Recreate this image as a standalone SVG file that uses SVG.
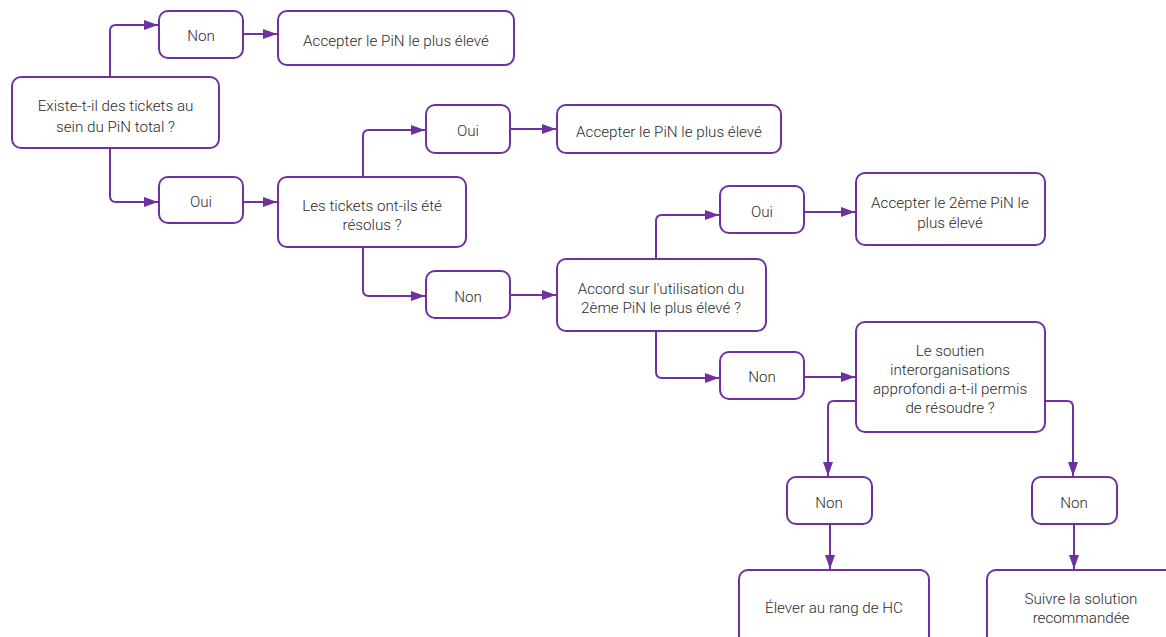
<svg xmlns="http://www.w3.org/2000/svg" width="1166" height="637" viewBox="0 0 1166 637">
<defs>
<marker id="ah" markerUnits="userSpaceOnUse" markerWidth="16" markerHeight="12" refX="14" refY="5" orient="auto">
<path d="M0 0 L14 5 L0 10 Z" fill="#7030a0"/>
</marker>
<style>
.n rect{fill:#fff;stroke:#7030a0;stroke-width:2;}
.n text{font-family:Roboto,"Liberation Sans",sans-serif;font-weight:300;font-size:15.2px;fill:#2b2b2b;text-anchor:middle;dominant-baseline:central;}
#edges path{fill:none;stroke:#7030a0;stroke-width:2;marker-end:url(#ah);}
</style>
</defs>
<rect width="1166" height="637" fill="#fff"/>
<g id="edges">
<path d="M110 77 V31 Q110 25 116 25 H158"/>
<path d="M110 148 V196 Q110 202 116 202 H158"/>
<path d="M243 34 H277"/>
<path d="M243 202 H277"/>
<path d="M363 177 V136 Q363 130 369 130 H425"/>
<path d="M363 247 V290 Q363 296 369 296 H425"/>
<path d="M510 129 H556"/>
<path d="M510 295 H556"/>
<path d="M656 259 V221 Q656 215 662 215 H719"/>
<path d="M656 331 V372 Q656 378 662 378 H719"/>
<path d="M804 212 H855"/>
<path d="M804 377 H855"/>
<path d="M856 401 H834 Q828 401 828 407 V476"/>
<path d="M1045 401 H1067 Q1073 401 1073 407 V476"/>
<path d="M830 524 V569"/>
<path d="M1074 524 V569"/>
</g>
<g id="start" class="n"><rect x="12" y="77" width="207" height="71" rx="9"/><text x="115.5" y="106">Existe-t-il des tickets au</text><text x="115.5" y="127">sein du PiN total ?</text></g>
<g id="non1" class="n"><rect x="159" y="11" width="84" height="47" rx="9"/><text x="201" y="36">Non</text></g>
<g id="acc1" class="n"><rect x="278" y="11" width="236" height="54" rx="9"/><text x="396" y="41">Accepter le PiN le plus élevé</text></g>
<g id="oui1" class="n"><rect x="159" y="177" width="84" height="46" rx="9"/><text x="201" y="202">Oui</text></g>
<g id="tickets" class="n"><rect x="278" y="177" width="188" height="70" rx="9"/><text x="372" y="206">Les tickets ont-ils été</text><text x="372" y="225">résolus ?</text></g>
<g id="oui2" class="n"><rect x="426" y="105" width="84" height="48" rx="9"/><text x="468" y="131">Oui</text></g>
<g id="acc2" class="n"><rect x="557" y="105" width="224" height="48" rx="9"/><text x="669" y="132">Accepter le PiN le plus élevé</text></g>
<g id="non2" class="n"><rect x="426" y="271" width="84" height="47" rx="9"/><text x="468" y="297">Non</text></g>
<g id="accord" class="n"><rect x="557" y="259" width="209" height="72" rx="9"/><text x="661" y="289">Accord sur l'utilisation du</text><text x="661" y="308">2ème PiN le plus élevé ?</text></g>
<g id="oui3" class="n"><rect x="720" y="186" width="84" height="47" rx="9"/><text x="762" y="212">Oui</text></g>
<g id="acc3" class="n"><rect x="856" y="173" width="189" height="72" rx="9"/><text x="950" y="203">Accepter le 2ème PiN le</text><text x="950" y="223">plus élevé</text></g>
<g id="non3" class="n"><rect x="720" y="352" width="84" height="47" rx="9"/><text x="762" y="377">Non</text></g>
<g id="soutien" class="n"><rect x="856" y="322" width="189" height="110" rx="9"/><text x="950" y="351">Le soutien</text><text x="950" y="370">interorganisations</text><text x="950" y="389">approfondi a-t-il permis</text><text x="950" y="408">de résoudre ?</text></g>
<g id="non4" class="n"><rect x="787" y="477" width="85" height="47" rx="9"/><text x="829" y="503">Non</text></g>
<g id="non5" class="n"><rect x="1032" y="477" width="85" height="47" rx="9"/><text x="1074" y="503">Non</text></g>
<g id="elever" class="n"><rect x="739" y="570" width="190" height="76" rx="9"/><text x="834" y="608">Élever au rang de HC</text></g>
<g id="suivre" class="n"><rect x="987" y="570" width="189" height="76" rx="9"/><text x="1081" y="599">Suivre la solution</text><text x="1081" y="618">recommandée</text></g>
</svg>
